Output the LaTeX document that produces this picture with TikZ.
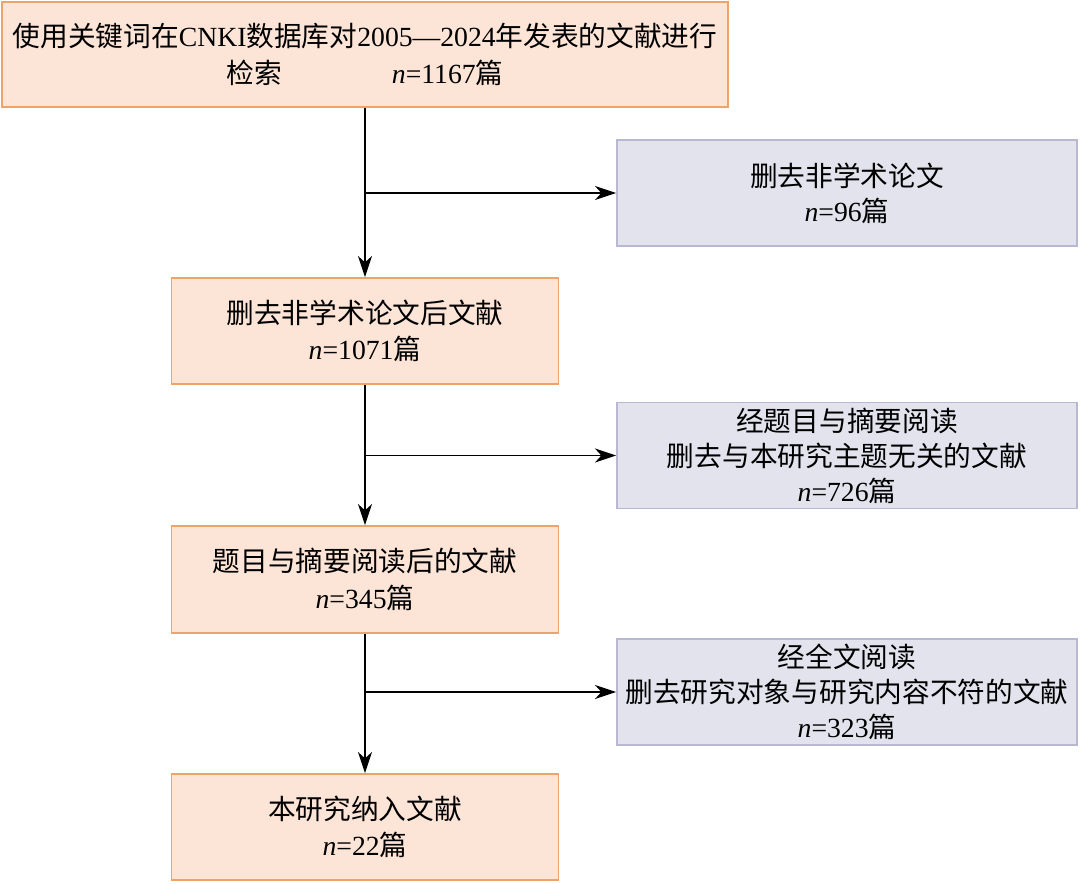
\documentclass[tikz,border=0pt]{standalone}
\usepackage{fontspec}
\setmainfont{Liberation Serif}
\newfontfamily\cjk{Noto Sans CJK SC}
\usetikzlibrary{arrows.meta}
\definecolor{boxorange}{HTML}{FCE4D6}
\definecolor{lineorange}{HTML}{EDA46C}
\definecolor{boxgrey}{HTML}{E3E3EE}
\definecolor{linegrey}{HTML}{B8B8D2}
\newcommand{\ncount}[1]{\textit{n}=#1{\cjk 篇}}
\tikzset{
	orangebox/.style={draw=lineorange, fill=boxorange, line width=1.3pt, align=center, inner sep=0pt, font=\fontsize{19.7}{26}\selectfont},
	greybox/.style={draw=linegrey, fill=boxgrey, line width=1.3pt, align=center, inner sep=0pt, font=\fontsize{19.7}{25}\selectfont, minimum width=11.5cm, minimum height=2.65cm},
	flowarrow/.style={-{Stealth[length=15pt,width=10pt,inset=4.5pt]}, line width=1.3pt},
}

\begin{document}
\begin{tikzpicture}
		%%%%% START %%%%%
		\useasboundingbox (0, 0) rectangle (27, -22.075);
		
		\node[orangebox, minimum width=18.15cm, minimum height=2.625cm] (search) at (9.125, -1.3625)
			{{\cjk 使用关键词在}CNKI{\cjk 数据库对}2005—2024{\cjk 年发表的文献进行}\\{\cjk 检索}\hspace{2.75cm}\ncount{1167}};
		
		\node[greybox] (excl1) at (21.175, -4.825) {{\cjk 删去非学术论文}\\\ncount{96}};
		\node[orangebox, minimum width=9.675cm, minimum height=2.65cm] (afternon) at (9.125, -8.275)
			{{\cjk 删去非学术论文后文献}\\\ncount{1071}};
		
		\node[greybox] (excl2) at (21.175, -11.3875) {{\cjk 经题目与摘要阅读}\\{\cjk 删去与本研究主题无关的文献}\\\ncount{726}};
		\node[orangebox, minimum width=9.675cm, minimum height=2.675cm] (afterabs) at (9.125, -14.4875)
			{{\cjk 题目与摘要阅读后的文献}\\\ncount{345}};
		
		\node[greybox] (excl3) at (21.175, -17.3) {{\cjk 经全文阅读}\\{\cjk 删去研究对象与研究内容不符的文献}\\\ncount{323}};
		\node[orangebox, minimum width=9.675cm, minimum height=2.65cm] (included) at (9.125, -20.675)
			{{\cjk 本研究纳入文献}\\\ncount{22}};
		
		% main flow
		\draw[flowarrow] (search) -- (afternon);
		\draw[flowarrow] (afternon) -- (afterabs);
		\draw[flowarrow] (afterabs) -- (included);
		
		% exclusions
		\draw[flowarrow] (excl1.west -| search.south) -- (excl1.west);
		\draw[flowarrow] (excl2.west -| search.south) -- (excl2.west);
		\draw[flowarrow] (excl3.west -| search.south) -- (excl3.west);
		
		%%%%% END %%%%%
	\end{tikzpicture}
\end{document}
